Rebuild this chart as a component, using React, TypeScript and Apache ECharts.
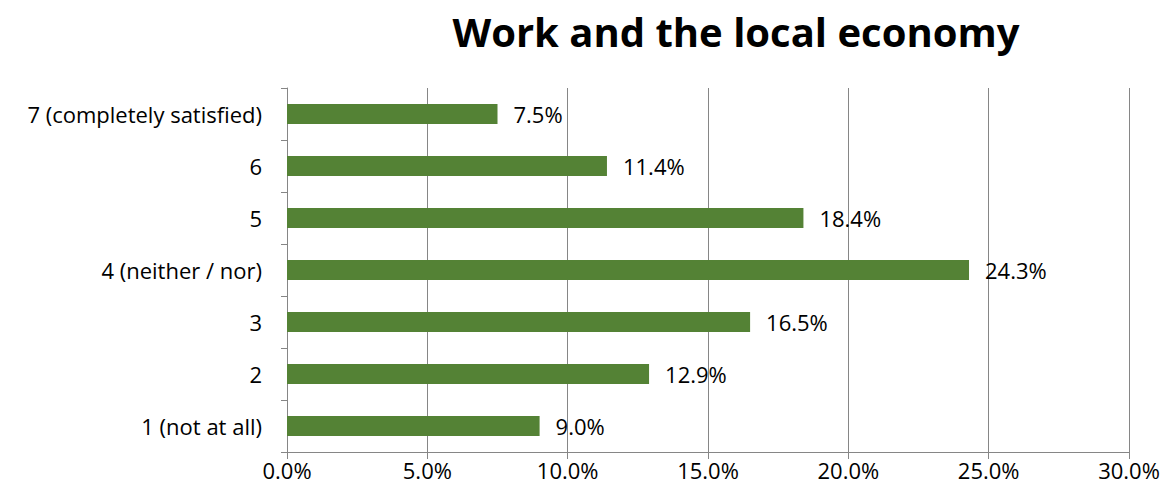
import React, { useEffect, useRef } from "react";
import * as echarts from "echarts";

const categories = [
  "1 (not at all)",
  "2",
  "3",
  "4 (neither / nor)",
  "5",
  "6",
  "7 (completely satisfied)",
];
const values = [9.0, 12.9, 16.5, 24.3, 18.4, 11.4, 7.5];
const xTicks = { min: 0, max: 30, interval: 5 };

const FONT = "'Open Sans', sans-serif";

export default function App() {
  const ref = useRef<HTMLDivElement>(null);
  useEffect(() => {
    if (!ref.current) return;
    const chart = echarts.init(ref.current, null, { renderer: "svg" });
    chart.setOption({
      animation: false,
      title: {
        text: "Work and the local economy",
        left: 731,
        textAlign: "center",
        top: 6,
        textStyle: { fontFamily: FONT, fontWeight: "bold", fontSize: 40, color: "#000" },
      },
      grid: { left: 287, right: 41, top: 88, bottom: 47, containLabel: false },
      xAxis: {
        type: "value",
        min: xTicks.min,
        max: xTicks.max,
        interval: xTicks.interval,
        axisLine: { show: true, lineStyle: { color: "#868686", width: 1 } },
        axisTick: { show: true, length: 7, lineStyle: { color: "#868686" } },
        splitLine: { show: true, lineStyle: { color: "#868686", width: 1 } },
        axisLabel: {
          formatter: (v: number) => v.toFixed(1) + "%",
          fontFamily: FONT,
          fontSize: 22,
          color: "#000",
          margin: 7,
        },
      },
      yAxis: {
        type: "category",
        data: categories,
        axisLine: { show: true, lineStyle: { color: "#868686", width: 1 } },
        axisTick: { show: true, length: 6, lineStyle: { color: "#868686" } },
        axisLabel: { fontFamily: FONT, fontSize: 22, color: "#000", margin: 25 },
      },
      series: [
        {
          type: "bar",
          data: values,
          barWidth: 20,
          itemStyle: { color: "#548235" },
          label: {
            show: true,
            position: "right",
            distance: 16,
            formatter: (p: any) => p.value.toFixed(1) + "%",
            fontFamily: FONT,
            fontSize: 22,
            color: "#000",
          },
        },
      ],
    });
    return () => chart.dispose();
  }, []);
  return (
    <div
      ref={ref}
      style={{ position: "absolute", left: 0, top: 0, width: 1170, height: 499 }}
    />
  );
}
